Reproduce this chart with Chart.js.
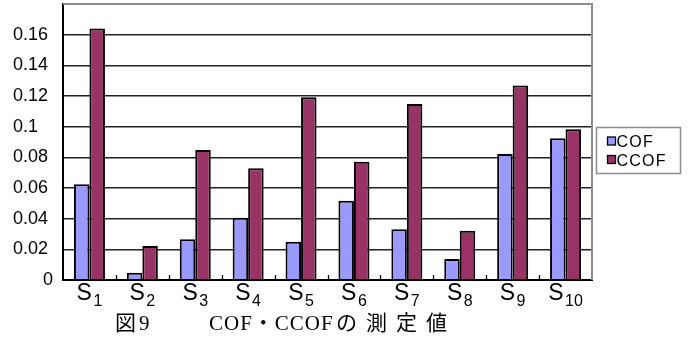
<!DOCTYPE html>
<html>
<head>
<meta charset="utf-8">
<script src="https://cdn.jsdelivr.net/npm/chart.js@4/dist/chart.umd.min.js"></script>
<style>
  html, body { margin: 0; padding: 0; background: #fff; }
  canvas { display: block; }
</style>
</head>
<body>
<canvas id="chart" width="691" height="340"></canvas>
<script>
// Samples S1..S10: base letter + subscript number
const categories = ['S1', 'S2', 'S3', 'S4', 'S5', 'S6', 'S7', 'S8', 'S9', 'S10'];
const seriesNames = ['COF', 'CCOF'];
const cofValues  = [0.0624, 0.0048, 0.0265, 0.0406, 0.0250, 0.0517, 0.0331, 0.0137, 0.0822, 0.0924];
const ccofValues = [0.1640, 0.0222, 0.0848, 0.0729, 0.1192, 0.0772, 0.1148, 0.0322, 0.1268, 0.0983];
const yTicks = [0, 0.02, 0.04, 0.06, 0.08, 0.1, 0.12, 0.14, 0.16];
const yMax = 0.18;
const seriesColors = ['#9999ff', '#993366'];

// Caption under the chart: 図9　　COF・CCOFの測定値
const captionNumber = '図9';
const captionName = 'COF・CCOF';
const captionSuffix = 'の測定値';

const SANS = "'Liberation Sans', Arial, sans-serif";
const SERIF = "'Liberation Serif', 'Noto Sans CJK JP', serif";

// Grey frame on the top and right of the plot area
const framePlugin = {
  id: 'frame',
  afterDatasetsDraw(chart) {
    const { ctx, chartArea: a } = chart;
    ctx.save();
    ctx.strokeStyle = '#8c8c8c';
    ctx.lineWidth = 2;
    ctx.beginPath();
    ctx.moveTo(a.left, a.top);
    ctx.lineTo(a.right, a.top);
    ctx.lineTo(a.right, a.bottom);
    ctx.stroke();
    ctx.restore();
  }
};

// Short inward tick marks between categories, and subscripted category labels
const categoryAxisPlugin = {
  id: 'categoryAxis',
  afterDraw(chart) {
    const { ctx, chartArea: a, scales: { x } } = chart;
    ctx.save();
    ctx.strokeStyle = '#000';
    ctx.lineWidth = 1.3;
    ctx.beginPath();
    for (let i = 0; i < categories.length - 1; i++) {
      const px = Math.round((x.getPixelForValue(i) + x.getPixelForValue(i + 1)) / 2) + 0.5;
      ctx.moveTo(px, a.bottom - 5);
      ctx.lineTo(px, a.bottom);
    }
    ctx.stroke();

    ctx.fillStyle = '#000';
    ctx.textBaseline = 'alphabetic';
    ctx.textAlign = 'left';
    const baseFont = '23px ' + SANS;
    const subFont = '16px ' + SANS;
    categories.forEach((label, i) => {
      const base = label.charAt(0);
      const sub = label.slice(1);
      ctx.font = baseFont;
      const wb = ctx.measureText(base).width;
      ctx.font = subFont;
      const ws = ctx.measureText(sub).width;
      const left = x.getPixelForValue(i) - (wb + ws + 1.5) / 2;
      ctx.font = baseFont;
      ctx.fillText(base, left, a.bottom + 19.5);
      ctx.font = subFont;
      ctx.fillText(sub, left + wb + 1.5, a.bottom + 26);
    });
    ctx.restore();
  }
};

// Boxed legend to the right of the plot area
const boxLegendPlugin = {
  id: 'boxLegend',
  afterDraw(chart) {
    const { ctx, chartArea: a } = chart;
    const bx = a.right + 4.5, by = 127.5, bw = 84, bh = 46;
    ctx.save();
    ctx.fillStyle = '#fff';
    ctx.fillRect(bx, by, bw, bh);
    ctx.strokeStyle = '#8c8c8c';
    ctx.lineWidth = 1.5;
    ctx.strokeRect(bx, by, bw, bh);
    chart.data.datasets.forEach((ds, i) => {
      const rowY = by + 14 + i * 18.5;
      ctx.fillStyle = ds.backgroundColor;
      ctx.fillRect(bx + 11, rowY - 4.5, 8, 8);
      ctx.strokeStyle = '#000';
      ctx.lineWidth = 1.3;
      ctx.strokeRect(bx + 11, rowY - 4.5, 8, 8);
      ctx.fillStyle = '#000';
      ctx.font = '16px ' + SANS;
      if ('letterSpacing' in ctx) ctx.letterSpacing = '1.2px';
      ctx.textBaseline = 'alphabetic';
      ctx.fillText(ds.label, bx + 20, rowY + 5.5);
      if ('letterSpacing' in ctx) ctx.letterSpacing = '0px';
    });
    ctx.restore();
  }
};

// Figure caption below the axis
const captionPlugin = {
  id: 'caption',
  afterDraw(chart) {
    const { ctx } = chart;
    const hasLS = 'letterSpacing' in ctx;
    ctx.save();
    ctx.fillStyle = '#000';
    ctx.textBaseline = 'alphabetic';
    ctx.textAlign = 'left';
    ctx.font = '21px ' + SERIF;
    const baseY = 330;
    if (hasLS) ctx.letterSpacing = '3px';
    ctx.fillText(captionNumber, 115, baseY);
    if (hasLS) ctx.letterSpacing = '1px';
    ctx.fillText(captionName, 209, baseY);
    if (hasLS) ctx.letterSpacing = '9px';
    ctx.fillText(captionSuffix, 336, baseY);
    if (hasLS) ctx.letterSpacing = '0px';
    ctx.restore();
  }
};

new Chart(document.getElementById('chart'), {
  type: 'bar',
  data: {
    labels: categories,
    datasets: [
      { label: seriesNames[0], data: cofValues, backgroundColor: seriesColors[0] },
      { label: seriesNames[1], data: ccofValues, backgroundColor: seriesColors[1] }
    ].map(ds => Object.assign(ds, {
      borderColor: '#000',
      borderWidth: 2,
      categoryPercentage: 0.586,
      barPercentage: 1.0
    }))
  },
  options: {
    responsive: false,
    animation: false,
    devicePixelRatio: 1,
    layout: { padding: { left: 13, top: 4, right: 99, bottom: 0 } },
    plugins: {
      legend: { display: false },
      tooltip: { enabled: false },
      title: { display: false }
    },
    scales: {
      x: {
        grid: { display: false },
        border: { color: '#000', width: 2 },
        ticks: { display: false },
        afterFit(scale) {
          scale.height = 60;
          scale.paddingLeft = 0; scale.paddingRight = 0;
        }
      },
      y: {
        min: 0,
        max: yMax,
        afterBuildTicks(scale) {
          scale.ticks = yTicks.map(v => ({ value: v }));
        },
        ticks: {
          color: '#000',
          padding: 0,
          crossAlign: 'far',
          font: { family: SANS, size: 18 },
          callback: v => (v === 0 ? '\u00a0\u00a0\u00a0\u00a0\u00a0\u00a00' : String(v))
        },
        grid: { color: '#222', lineWidth: 1.5, drawTicks: false },
        border: { color: '#000', width: 2 },
        afterFit(scale) {
          scale.width = 50;
          scale.paddingTop = 0; scale.paddingBottom = 0;
        }
      }
    }
  },
  plugins: [framePlugin, categoryAxisPlugin, boxLegendPlugin, captionPlugin]
});
</script>
</body>
</html>
